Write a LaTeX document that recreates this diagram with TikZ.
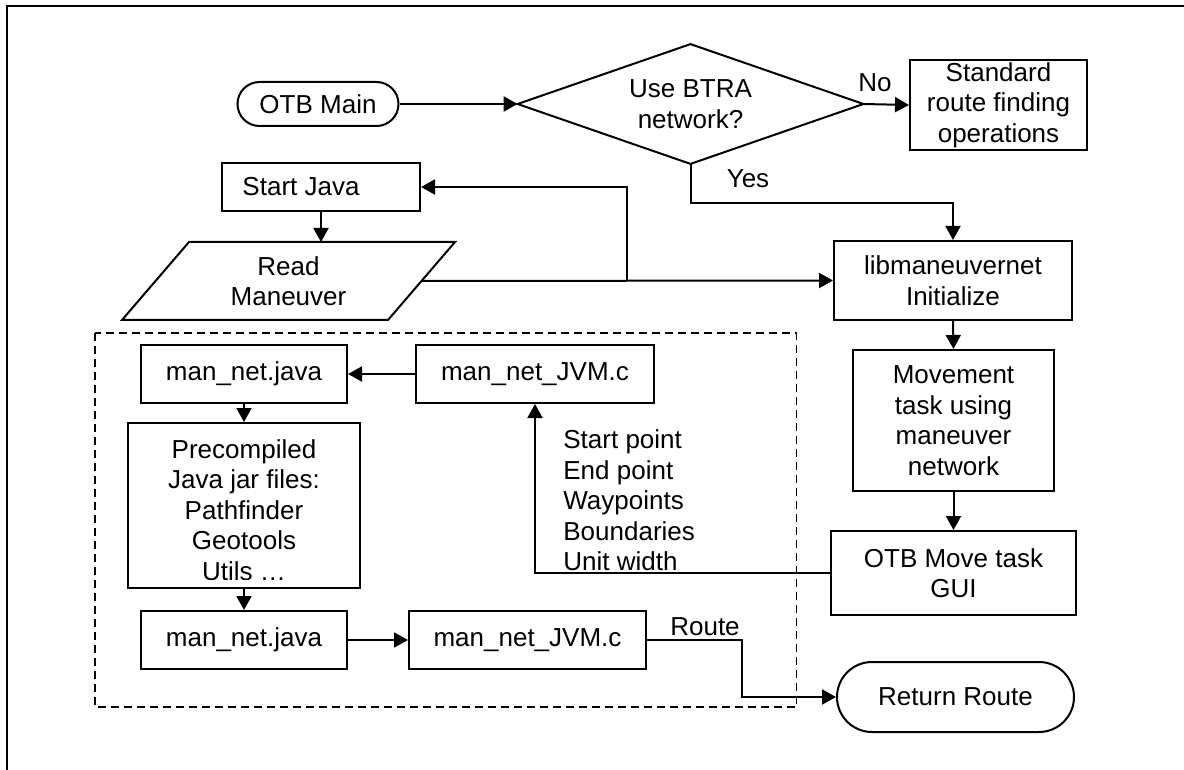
\documentclass[tikz,border=0pt]{standalone}
\usepackage{fontspec}
\setmainfont{Liberation Sans}
\usetikzlibrary{shapes.geometric,shapes.misc,arrows.meta}

\tikzset{
  every node/.style={font=\fontsize{13}{15.25}\selectfont, inner sep=0pt},
  line/.style={line width=1pt},
  arr/.style={line width=1pt, -{Triangle[length=7pt,width=7.5pt]}},
  procbox/.style={draw, line width=1pt, rectangle, align=center},
  terminal/.style={draw, line width=1pt, rounded rectangle, align=center},
  plain/.style={align=center},
}

\begin{document}
\begin{tikzpicture}[x=0.5pt, y=-0.5pt]
\useasboundingbox (0,0) rectangle (1184,770);

% partial page frame
\draw[line width=1.1pt] (1184,6) -- (7,6) -- (7,770);

% dashed group around the Java side
\draw[line width=0.9pt, dash pattern=on 4pt off 2.5pt] (95,333) rectangle (796.5,707);

% main flow
\node[terminal, minimum width=80.5pt, minimum height=22pt] (otb) at (318,104) {OTB Main};

% decision: text node spanning the diamond, outline drawn through its tips
\node[plain, minimum width=172.5pt, minimum height=59.5pt] (dia) at (690.5,104) {Use BTRA\\network?};
\draw[line] (dia.west) -- (dia.north) -- (dia.east) -- (dia.south) -- cycle;

\node[procbox, minimum width=88.5pt, minimum height=45pt] (std) at (998.5,105) {Standard\\route finding\\operations};
\node[procbox, minimum width=99pt, minimum height=24pt] (sj) at (321,187) {Start Java\hspace*{20pt}};

% read maneuver (input parallelogram)
\node[plain, minimum width=132.5pt, minimum height=39pt] (read) at (288.5,281) {Read\\Maneuver};
\draw[line] (189,242) -- (455,242) -- (388,320) -- (122,320) -- cycle;

\node[procbox, minimum width=119pt, minimum height=39.5pt] (libm) at (953,280.5) {libmaneuvernet\\Initialize};
\node[procbox, minimum width=100.5pt, minimum height=70.5pt] (mov) at (953.5,420.5) {Movement\\task using\\maneuver\\network};
\node[procbox, minimum width=122.5pt, minimum height=42pt] (gui) at (953.5,573) {OTB Move task\\GUI};
\node[terminal, minimum width=118.5pt, minimum height=35pt] (ret) at (955.5,697) {Return Route};

% java side
\node[procbox, minimum width=103pt, minimum height=29pt] (mj1) at (244,374) {man\_net.java};
\node[procbox, minimum width=119pt, minimum height=29pt] (jvm1) at (535,374) {man\_net\_JVM.c};
\node[procbox, minimum width=116pt, minimum height=82.5pt] (pre) at (244,505.5) {};
\begin{scope}
  \clip (128,423) rectangle (360,579);
  \node[plain] (pretext) at (244,510) {Precompiled\\Java jar files:\\Pathfinder\\Geotools\\Utils \ldots};
\end{scope}
\node[procbox, minimum width=103pt, minimum height=29pt] (mj2) at (244,640) {man\_net.java};
\node[procbox, minimum width=118.5pt, minimum height=29pt] (jvm2) at (527.5,640) {man\_net\_JVM.c};

\node[anchor=west, align=left] (params) at (563,500.5) {Start point\\End point\\Waypoints\\Boundaries\\Unit width};

% connectors
\draw[arr] (otb.east) -- (dia.west);
\draw[arr] (dia.east) -- (std.west);
\node (no) at (875,83) {No};
\draw[arr] (dia.south) -- ++(0,39) -| (libm.north);
\node (yes) at (748,179) {Yes};
\draw[arr] (read.east) -- (libm.west);
\coordinate (j) at (627,281);
\draw[arr] (j) |- (sj.east);
\draw[arr] (sj.south) -- (sj.south |- 0,242);
\draw[arr] (libm.south) -- (mov.north);
\draw[arr] (mov.south) -- (gui.north);
\draw[arr] (gui.west) -| (jvm1.south);
\draw[arr] (jvm1.west) -- (mj1.east);
\draw[arr] (mj1.south) -- (pre.north);
\draw[arr] (pre.south) -- (mj2.north);
\draw[arr] (mj2.east) -- (jvm2.west);
\draw[arr] (jvm2.east) -- ++(95,0) |- (ret.west);
\node (route) at (705,627) {Route};
\end{tikzpicture}
\end{document}
